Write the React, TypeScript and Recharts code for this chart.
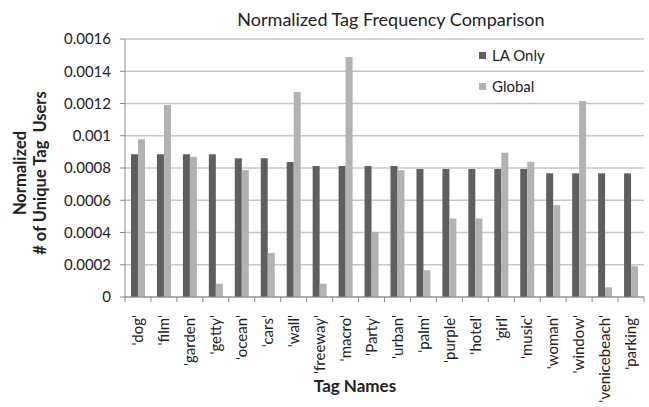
import React from "react";
import { BarChart, Bar, XAxis, YAxis, CartesianGrid } from "recharts";

const tags = [
  "'dog'", "'film'", "'garden'", "'getty'", "'ocean'", "'cars'", "'wall'", "'freeway'", "'macro'", "'Party'",
  "'urban'", "'palm'", "'purple'", "'hotel'", "'girl'", "'music'", "'woman'", "'window'", "'venicebeach'", "'parking'",
];
const laOnly = [
  0.000885, 0.000885, 0.000885, 0.000885, 0.00086, 0.00086, 0.000837, 0.000812, 0.000812, 0.000812,
  0.000812, 0.000794, 0.000794, 0.000794, 0.000794, 0.000794, 0.000767, 0.000767, 0.000767, 0.000767,
];
const globalVals = [
  0.000978, 0.001191, 0.00087, 0.000083, 0.000787, 0.000273, 0.001272, 0.000083, 0.001488, 0.000404,
  0.000787, 0.000166, 0.000487, 0.000487, 0.000895, 0.000839, 0.00057, 0.001216, 0.00006, 0.000191,
];
const yTicks = [0, 0.0002, 0.0004, 0.0006, 0.0008, 0.001, 0.0012, 0.0014, 0.0016];
const yTickLabels = ["0", "0.0002", "0.0004", "0.0006", "0.0008", "0.001", "0.0012", "0.0014", "0.0016"];

const data = tags.map((name, i) => ({ name, la: laOnly[i], global: globalVals[i] }));

const DARK = "#5f5f5f";
const LIGHT = "#b2b2b2";
const FONT = "Lato, 'Open Sans', sans-serif";

// plot box
const LEFT = 125;
const RIGHT_PAD = 5;
const WIDTH = 649;
const BAND = (WIDTH - LEFT - RIGHT_PAD) / tags.length;

const XTick = (props: any) => {
  const { x, y, payload, index } = props;
  const isLast = index === tags.length - 1;
  return (
    <g>
      <line x1={x - BAND / 2} x2={x - BAND / 2} y1={y} y2={y + 5} stroke="#888" />
      {isLast && <line x1={x + BAND / 2} x2={x + BAND / 2} y1={y} y2={y + 5} stroke="#888" />}
      <text
        transform={`translate(${x},${y + 18}) rotate(-90)`}
        textAnchor="end"
        dy="0.35em"
        fontSize={15}
        fill="#222"
        fontFamily={FONT}
      >
        {payload.value}
      </text>
    </g>
  );
};

export default function App() {
  return (
    <div style={{ position: "absolute", left: 0, top: 0, width: 649, height: 407, background: "#fff", fontFamily: FONT }}>
      <div
        style={{
          position: "absolute",
          left: 391,
          top: 6,
          transform: "translateX(-50%)",
          whiteSpace: "nowrap",
          fontSize: 18,
          color: "#222",
          lineHeight: "26px",
        }}
      >
        Normalized Tag Frequency Comparison
      </div>
      <div style={{ position: "absolute", left: 479, top: 45, fontSize: 15, color: "#222", lineHeight: "20px" }}>
        <div style={{ display: "flex", alignItems: "center", height: 20 }}>
          <span style={{ width: 7, height: 7, background: DARK, marginRight: 6, display: "inline-block" }} />
          LA Only
        </div>
        <div style={{ display: "flex", alignItems: "center", height: 20, marginTop: 11 }}>
          <span style={{ width: 7, height: 7, background: LIGHT, marginRight: 6, display: "inline-block" }} />
          Global
        </div>
      </div>
      <BarChart
        width={649}
        height={407}
        data={data}
        barSize={7}
        barGap={0}
        margin={{ top: 39, right: RIGHT_PAD, left: 0, bottom: 0 }}
      >
        <CartesianGrid vertical={false} stroke="#c6c6c6" strokeWidth={1.5} />
        <XAxis
          dataKey="name"
          interval={0}
          height={110}
          axisLine={{ stroke: "#888" }}
          tickLine={false}
          tickSize={0}
          tickMargin={0}
          tick={<XTick />}
        />
        <YAxis
          width={LEFT}
          domain={[0, 0.0016]}
          ticks={yTicks}
          interval={0}
          axisLine={{ stroke: "#888" }}
          tickLine={{ stroke: "#888" }}
          tickSize={5}
          tickMargin={9}
          tick={{ fontSize: 15, fill: "#222", fontFamily: FONT }}
          tickFormatter={(v: number) => yTickLabels[yTicks.indexOf(v)] ?? String(v)}
        />
        <Bar dataKey="la" name="LA Only" fill={DARK} isAnimationActive={false} />
        <Bar dataKey="global" name="Global" fill={LIGHT} isAnimationActive={false} />
        <text
          transform="translate(26,173) rotate(-90)"
          textAnchor="middle"
          fontSize={16.5}
          fontWeight="bold"
          fill="#222"
          fontFamily={FONT}
        >
          Normalized
        </text>
        <text
          transform="translate(46,173) rotate(-90)"
          textAnchor="middle"
          fontSize={16.5}
          fontWeight="bold"
          fill="#222"
          fontFamily={FONT}
          style={{ whiteSpace: "pre" }}
        >
          {"# of Unique Tag  Users"}
        </text>
        <text x={355} y={392} textAnchor="middle" fontSize={17} fontWeight="bold" fill="#222" fontFamily={FONT}>
          Tag Names
        </text>
      </BarChart>
    </div>
  );
}
